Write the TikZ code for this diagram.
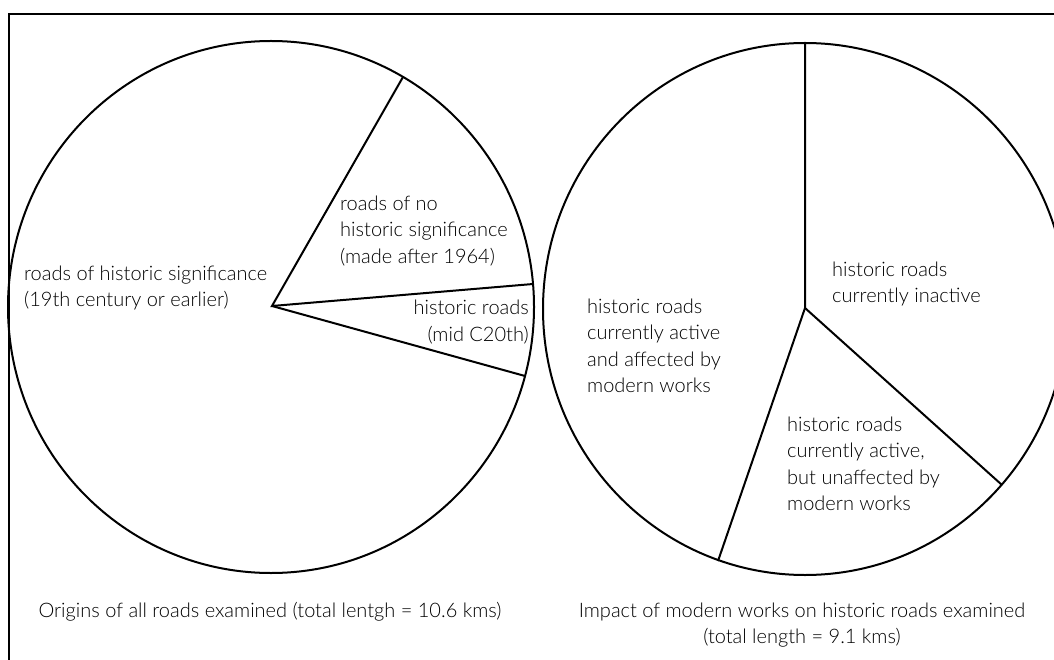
\documentclass[tikz,border=0pt]{standalone}
\usepackage{fontspec}
\setmainfont{Lato}[UprightFont=* Light]
\usetikzlibrary{positioning}

\tikzset{
  pie/.style={line width=2pt},
  frame/.style={line width=1.3pt},
  piece/.style={inner sep=0pt, align=left, font=\fontsize{20}{26.5}\selectfont},
  caption/.style={inner sep=0pt, align=center, font=\fontsize{20}{26.5}\selectfont}
}

\begin{document}
\begin{tikzpicture}[x=1pt,y=-1pt]
  \useasboundingbox (0,0) rectangle (1054,660);
  \draw[frame] (1054,14) -- (9,14) -- (9,660);

  % origins of roads
  \coordinate (lc) at (272,306);
  \coordinate (la) at (403,77);
  \coordinate (lb) at (533,284);
  \coordinate (ld) at (525,376);
  \draw[pie] (271,307) ellipse [x radius=263, y radius=266];
  \draw[pie] (la) -- (lc) -- (lb);
  \draw[pie] (lc) -- (ld);
  \node[piece, anchor=west] (hist) at (24,288) {roads of historic significance\\(19th century or earlier)};
  \node[piece, anchor=west] (nohist) at (340,231) {roads of no\\historic significance\\(made after 1964)};
  \node[piece, anchor=east, align=right] (mid) at (529,322) {historic roads\\(mid C20th)};
  \node[caption] (cap1) at (270,612) {Origins of all roads examined (total lentgh = 10.6 kms)};

  % impact of modern works
  \coordinate (rc) at (805,308);
  \coordinate (ra) at (805,43);
  \coordinate (rb) at (1002,485);
  \coordinate (rd) at (718,561);
  \draw[pie] (805,309) ellipse [x radius=262, y radius=266];
  \draw[pie] (ra) -- (rc) -- (rb);
  \draw[pie] (rc) -- (rd);
  \node[piece, anchor=west] (active) at (587,346) {historic roads\\currently active\\and affected by\\modern works};
  \node[piece, anchor=west] (inactive) at (832,284) {historic roads\\currently inactive};
  \node[piece, anchor=west] (unaff) at (787,464) {historic roads\\currently active,\\but unaffected by\\modern works};
  \node[caption] (cap2) at (802,625) {Impact of modern works on historic roads examined\\(total length = 9.1 kms)};
\end{tikzpicture}
\end{document}
